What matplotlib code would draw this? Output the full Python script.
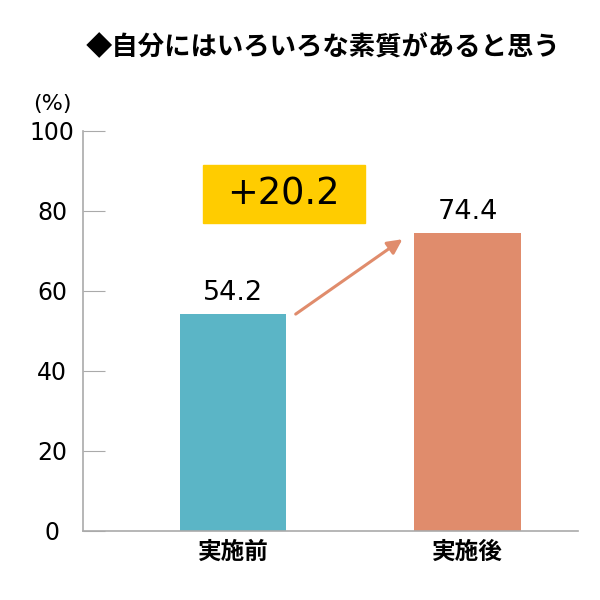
import matplotlib.pyplot as plt
from matplotlib.patches import Rectangle

plt.rcParams['font.family'] = ['DejaVu Sans', 'Noto Sans CJK JP']

categories = ['実施前', '実施後']
values = [54.2, 74.4]
colors = ['#5BB5C6', '#E08C6C']
diff_label = '+20.2'
title = '◆自分にはいろいろな素質があると思う'
yticks = [0, 20, 40, 60, 80, 100]

fig = plt.figure(figsize=(6, 6), dpi=100)
ax = fig.add_axes([0.138, 0.115, 0.825, 0.667])

w = 0.455
x = range(len(categories))
ax.bar(x, values, width=w, color=colors)

ax.set_xlim(-0.64, 1.47)
ax.set_ylim(0, 100)
ax.set_yticks(yticks)
ax.set_yticklabels([str(t) for t in yticks], fontsize=17, ha='center')
ax.set_xticks(list(x))
ax.set_xticklabels(categories, fontsize=17, fontweight='bold',
                   family=['Noto Sans CJK JP', 'DejaVu Sans'])
ax.tick_params(axis='y', direction='in', length=16, color='#AAAAAA', pad=22)
ax.tick_params(axis='x', length=0, pad=6)
for s in ['top', 'right']:
    ax.spines[s].set_visible(False)
for s in ['left', 'bottom']:
    ax.spines[s].set_color('#AAAAAA')
    ax.spines[s].set_linewidth(1.2)

for i, v in enumerate(values):
    ax.text(i, v + 2.0, f'{v}', ha='center', va='bottom', fontsize=19.5)

# arrow between bars
ax.annotate('', xy=(1 - w / 2 - 0.05, values[1] - 1.5),
            xytext=(0 + w / 2 + 0.04, values[0]),
            arrowprops=dict(arrowstyle='-|>', color=colors[1], lw=2.2,
                            mutation_scale=22, shrinkA=0, shrinkB=0))

# highlighted difference box
ax.add_patch(Rectangle((-0.128, 77), 0.69, 14.5, color='#FFCC00', zorder=3))
ax.text(0.217, 84.25, diff_label, ha='center', va='center', fontsize=26.5,
        zorder=4)

fig.text(0.143, 0.922, title, fontsize=19, fontweight='bold',
         family=['Noto Sans CJK JP', 'DejaVu Sans'], va='center', ha='left')
fig.text(0.088, 0.827, '(%)', fontsize=16, ha='center', va='center')

fig.savefig('out.png', dpi=100, facecolor='white')
